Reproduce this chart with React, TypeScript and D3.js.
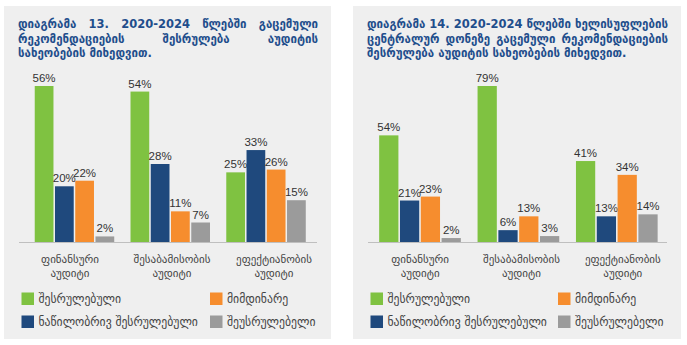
import React, { useEffect, useRef } from "react";
import * as d3 from "d3";

const categories: string[][] = [
  ["ფინანსური", "აუდიტი"],
  ["შესაბამისობის", "აუდიტი"],
  ["ეფექტიანობის", "აუდიტი"],
];
const seriesNames = ["შესრულებული", "ნაწილობრივ შესრულებული", "მიმდინარე", "შეუსრულებელი"];
const seriesColors = ["#7fc241", "#1f497d", "#f68d2e", "#9b9b9b"];

// Diagram 13
const d13Completed = [56, 54, 25];
const d13Partial = [20, 28, 33];
const d13Ongoing = [22, 11, 26];
const d13NotDone = [2, 7, 15];
// Diagram 14
const d14Completed = [54, 79, 41];
const d14Partial = [21, 6, 13];
const d14Ongoing = [23, 13, 34];
const d14NotDone = [2, 3, 14];

const title13 = [
  "დიაგრამა 13. 2020-2024 წლებში გაცემული",
  "რეკომენდაციების შესრულება აუდიტის",
  "სახეობების მიხედვით.",
];
const title14 = [
  "დიაგრამა 14. 2020-2024 წლებში ხელისუფლების",
  "ცენტრალურ დონეზე გაცემული რეკომენდაციების",
  "შესრულება აუდიტის სახეობების მიხედვით.",
];

const GEO = "'DejaVu Sans', sans-serif";
const NUM = "'Liberation Sans', Arial, sans-serif";

interface PanelCfg {
  px: number; pw: number;
  titleX0: number; titleX1: number;
  barX0: number; barX1: number;
  labX0: number; labX1: number;
  axisX0: number; axisX1: number;
  legX0: number; legX1: number;
  title: string[];
  series: number[][];
}

const panels: PanelCfg[] = [
  {
    px: 4, pw: 327, titleX0: 18, titleX1: 318, barX0: 26.6, barX1: 313.9, labX0: 19, labX1: 325,
    axisX0: 19, axisX1: 317, legX0: 21.5, legX1: 210, title: title13,
    series: [d13Completed, d13Partial, d13Ongoing, d13NotDone],
  },
  {
    px: 353, pw: 328, titleX0: 367, titleX1: 668, barX0: 370.8, barX1: 666, labX0: 369.5, labX1: 673.5,
    axisX0: 368, axisX1: 667, legX0: 370.5, legX1: 558, title: title14,
    series: [d14Completed, d14Partial, d14Ongoing, d14NotDone],
  },
];

export default function App() {
  const ref = useRef<SVGSVGElement>(null);
  useEffect(() => {
    const svg = d3.select(ref.current);
    svg.selectAll("*").remove();
    svg.append("rect").attr("width", 687).attr("height", 345).attr("fill", "#ffffff");

    panels.forEach((p) => {
      const g = svg.append("g");
      g.append("rect").attr("x", p.px).attr("y", 6).attr("width", p.pw).attr("height", 333).attr("fill", "#efefef");

      // Title, justified
      p.title.forEach((line, li) => {
        const y = 28.3 + li * 14.5;
        const words = line.split(" ");
        const justify = li < p.title.length - 1;
        const texts = words.map((w) =>
          g.append("text").attr("y", y).attr("font-family", GEO).attr("font-weight", "bold")
            .attr("font-size", 12.5).attr("fill", "#1f4e8c").text(w)
        );
        const widths = texts.map((t) => (t.node() as SVGTextElement).getComputedTextLength() * 0.92);
        const total = d3.sum(widths);
        const target = p.titleX1 - p.titleX0;
        let gap = justify && words.length > 1 ? (target - total) / (words.length - 1) : 4;
        let scale = 1;
        if (justify && gap < 3) { gap = 3; scale = (target - gap * (words.length - 1)) / total; }
        let x = p.titleX0;
        texts.forEach((t, i) => {
          t.attr("x", x).attr("textLength", widths[i] * scale).attr("lengthAdjust", "spacingAndGlyphs");
          x += widths[i] * scale + gap;
        });
      });

      const maxV = d3.max(p.series.flat()) as number;
      const y = d3.scaleLinear().domain([0, maxV]).range([242, 86]);
      const x0 = d3.scaleBand<number>().domain(d3.range(categories.length)).range([p.barX0, p.barX1])
        .paddingInner(0.17).paddingOuter(0.085);
      const x1 = d3.scaleBand<number>().domain(d3.range(seriesNames.length)).range([0, x0.bandwidth()])
        .paddingInner(0.075).paddingOuter(0);
      const xl = d3.scaleBand<number>().domain(d3.range(categories.length)).range([p.labX0, p.labX1]);

      categories.forEach((_, ci) => {
        p.series.forEach((vals, si) => {
          const bx = (x0(ci) as number) + (x1(si) as number);
          const v = vals[ci];
          g.append("rect").attr("x", bx).attr("y", y(v)).attr("width", x1.bandwidth())
            .attr("height", 242 - y(v)).attr("fill", seriesColors[si]);
          g.append("text").attr("x", bx + x1.bandwidth() / 2).attr("y", y(v) - 4)
            .attr("text-anchor", "middle").attr("font-family", NUM).attr("font-size", 11.5)
            .attr("fill", "#333333").text(v + "%");
        });
        const cx = (xl(ci) as number) + xl.bandwidth() / 2;
        categories[ci].forEach((ln, li) => {
          g.append("text").attr("x", cx).attr("y", 263 + li * 13.5).attr("text-anchor", "middle")
            .attr("font-family", GEO).attr("font-size", 11).attr("fill", "#444444").text(ln);
        });
      });

      g.append("line").attr("x1", p.axisX0).attr("x2", p.axisX1).attr("y1", 242.5).attr("y2", 242.5)
        .attr("stroke", "#bfbfbf").attr("stroke-width", 1);

      // Legend: row 1 = series 0, 2; row 2 = series 1, 3
      const legPos = [
        { si: 0, x: p.legX0, y: 292.5 },
        { si: 2, x: p.legX1, y: 292.5 },
        { si: 1, x: p.legX0, y: 315.5 },
        { si: 3, x: p.legX1, y: 315.5 },
      ];
      legPos.forEach((lp) => {
        g.append("rect").attr("x", lp.x).attr("y", lp.y).attr("width", 12.5).attr("height", 12.5)
          .attr("fill", seriesColors[lp.si]);
        g.append("text").attr("x", lp.x + 17).attr("y", lp.y + 10.5).attr("font-family", GEO)
          .attr("font-size", 11.7).attr("fill", "#444444").text(seriesNames[lp.si]);
      });
    });
  }, []);
  return (
    <svg ref={ref} width={687} height={345} style={{ position: "absolute", left: 0, top: 0 }} />
  );
}
